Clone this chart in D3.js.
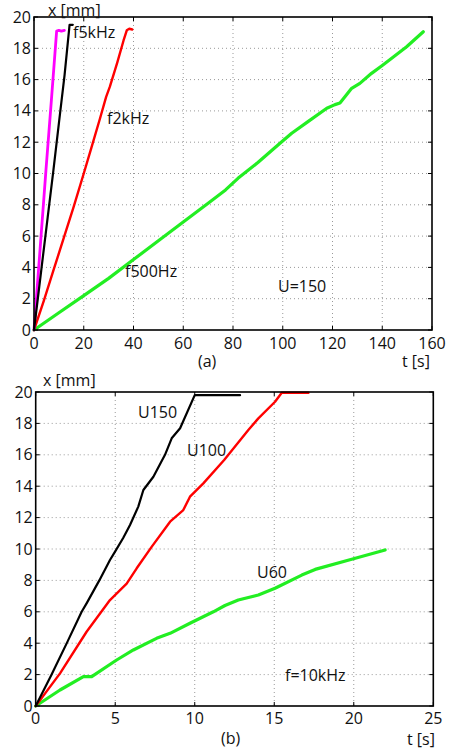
<!DOCTYPE html>
<html><head><meta charset="utf-8">
<script src="https://cdn.jsdelivr.net/npm/d3@7"></script>
<style>
body{margin:0;background:#fff;}
text{font-family:"Open Sans",sans-serif;font-size:16px;fill:#111;}
</style></head>
<body><svg id="c" width="450" height="751"></svg>
<script>
// ---- Panel (a) data : U=150, various frequencies ----
const tA_f5k_mag = [0, 1.8, 4.8, 7, 9.1, 10, 11, 12.2];
const xA_f5k_mag = [0, 3.8, 10.2, 14.7, 19.1, 19.15, 19.1, 19.15];
const tA_f5k_blk = [0, 2.9, 5.5, 7.8, 10, 12.3, 14.3, 15.6];
const xA_f5k_blk = [0, 3.8, 7.2, 10.2, 13.2, 16.3, 19.5, 19.5];
const tA_f2k = [0, 4, 8, 12, 16, 20, 23, 26.5, 29, 30.5, 33.5, 36, 37.3, 38.3, 39.5];
const xA_f2k = [0, 1.9, 3.9, 5.9, 7.9, 10.0, 11.6, 13.5, 14.9, 15.55, 17.1, 18.5, 19.15, 19.25, 19.2];
const tA_f500 = [0, 10, 20, 30, 40, 50, 60, 70, 77, 82, 90, 98.9, 103.6, 110, 117.7, 121, 123, 125, 127.7, 131, 135.7, 140, 143.8, 149.8, 156.5];
const xA_f500 = [0, 1.1, 2.2, 3.3, 4.5, 5.7, 6.9, 8.1, 8.95, 9.69, 10.7, 11.93, 12.57, 13.3, 14.17, 14.4, 14.5, 14.9, 15.44, 15.76, 16.4, 16.9, 17.36, 18.1, 19.06];
const xTicksA = [0, 20, 40, 60, 80, 100, 120, 140, 160];
const yTicksA = [0, 2, 4, 6, 8, 10, 12, 14, 16, 18, 20];

// ---- Panel (b) data : f=10kHz, various voltages ----
const tB_U150 = [0, 1, 2, 2.89, 3.2, 4, 4.67, 4.99, 5.5, 5.93, 6.45, 6.77, 7.4, 8.13, 8.55, 9.08, 10.0, 11, 12, 12.85];
const xB_U150 = [0, 2.0, 4.1, 6.0, 6.54, 8.0, 9.3, 9.83, 10.7, 11.53, 12.7, 13.76, 14.6, 16.0, 17.05, 17.69, 19.8, 19.8, 19.8, 19.8];
const tB_U100 = [0, 1.53, 3.2, 4.67, 5.72, 6.35, 7.3, 8.45, 9.28, 9.7, 10.54, 11.85, 13.37, 14.0, 15.05, 15.47, 16.3, 17.15];
const xB_U100 = [0, 2.08, 4.73, 6.75, 7.8, 8.77, 10.15, 11.74, 12.48, 13.33, 14.18, 15.67, 17.58, 18.32, 19.38, 19.95, 19.95, 19.95];
const tB_U60 = [0, 1.53, 3.0, 3.52, 5.09, 6.14, 7.6, 8.45, 9.7, 11.17, 11.9, 12.74, 14.0, 15.05, 16.73, 17.57, 19.87, 21.97];
const xB_U60 = [0, 1.02, 1.87, 1.87, 2.93, 3.57, 4.31, 4.63, 5.27, 6.0, 6.4, 6.75, 7.07, 7.5, 8.34, 8.7, 9.35, 9.94];
const xTicksB = [0, 5, 10, 15, 20, 25];
const yTicksB = [0, 2, 4, 6, 8, 10, 12, 14, 16, 18, 20];

const svg = d3.select("#c");
const zip = (a, b) => a.map((v, i) => [v, b[i]]);

function panel(cfg) {
  const g = svg.append("g");
  const x = d3.scaleLinear().domain(cfg.xd).range([cfg.left, cfg.right]);
  const y = d3.scaleLinear().domain([0, 20]).range([cfg.bottom, cfg.top]);
  // grid
  cfg.xt.slice(1, -1).forEach(v => g.append("line")
    .attr("x1", x(v)).attr("x2", x(v)).attr("y1", cfg.top).attr("y2", cfg.bottom)
    .attr("stroke", "#999").attr("stroke-width", 1).attr("stroke-dasharray", "1,3"));
  cfg.yt.slice(1, -1).forEach(v => g.append("line")
    .attr("y1", y(v)).attr("y2", y(v)).attr("x1", cfg.left).attr("x2", cfg.right)
    .attr("stroke", "#999").attr("stroke-width", 1).attr("stroke-dasharray", "1,3"));
  // inward ticks on all sides
  const tl = 4;
  cfg.xt.forEach(v => {
    g.append("line").attr("x1", x(v)).attr("x2", x(v)).attr("y1", cfg.bottom).attr("y2", cfg.bottom - tl).attr("stroke", "#000");
    g.append("line").attr("x1", x(v)).attr("x2", x(v)).attr("y1", cfg.top).attr("y2", cfg.top + tl).attr("stroke", "#000");
  });
  cfg.yt.forEach(v => {
    g.append("line").attr("y1", y(v)).attr("y2", y(v)).attr("x1", cfg.left).attr("x2", cfg.left + tl).attr("stroke", "#000");
    g.append("line").attr("y1", y(v)).attr("y2", y(v)).attr("x1", cfg.right).attr("x2", cfg.right - tl).attr("stroke", "#000");
  });
  // series
  const line = d3.line().x(d => x(d[0])).y(d => y(d[1]));
  cfg.series.forEach(s => g.append("path").datum(zip(s.t, s.x))
    .attr("d", line).attr("fill", "none").attr("stroke", s.color)
    .attr("stroke-width", s.w).attr("stroke-linejoin", "round").attr("stroke-linecap", "round"));
  // frame
  g.append("rect").attr("x", cfg.left).attr("y", cfg.top)
    .attr("width", cfg.right - cfg.left).attr("height", cfg.bottom - cfg.top)
    .attr("fill", "none").attr("stroke", "#000").attr("stroke-width", 1.6);
  // tick labels
  cfg.xt.forEach(v => g.append("text").attr("x", x(v)).attr("y", cfg.bottom + cfg.xl)
    .attr("text-anchor", "middle").text(v));
  cfg.yt.forEach(v => g.append("text").attr("x", cfg.left - 3).attr("y", y(v) + 5.5)
    .attr("text-anchor", "end").text(v));
  // annotations
  cfg.texts.forEach(t => g.append("text").attr("x", t[0]).attr("y", t[1])
    .attr("text-anchor", t[3] || "start").text(t[2]));
}

panel({
  left: 34, right: 432, top: 17, bottom: 330, xd: [0, 160], xl: 19,
  xt: xTicksA, yt: yTicksA,
  series: [
    {t: tA_f500, x: xA_f500, color: "#22ee22", w: 3.2},
    {t: tA_f2k, x: xA_f2k, color: "#ff0000", w: 2.4},
    {t: tA_f5k_mag, x: xA_f5k_mag, color: "#ff00ff", w: 2.8},
    {t: tA_f5k_blk, x: xA_f5k_blk, color: "#000000", w: 2.2}
  ],
  texts: [
    [48, 16, "x [mm]"], [402, 367, "t [s]"], [198, 367, "(a)"],
    [73, 38, "f5kHz"], [107, 124, "f2kHz"], [125, 277, "f500Hz"], [278, 292, "U=150"]
  ]
});

panel({
  left: 35.7, right: 433.3, top: 392, bottom: 706, xd: [0, 25], xl: 18,
  xt: xTicksB, yt: yTicksB,
  series: [
    {t: tB_U60, x: xB_U60, color: "#22ee22", w: 3.2},
    {t: tB_U100, x: xB_U100, color: "#ff0000", w: 2.4},
    {t: tB_U150, x: xB_U150, color: "#000000", w: 2.2}
  ],
  texts: [
    [43, 386, "x [mm]"], [407, 745, "t [s]"], [221, 744, "(b)"],
    [138, 418, "U150"], [187, 456, "U100"], [257, 578, "U60"], [285, 681, "f=10kHz"]
  ]
});
</script></body></html>
